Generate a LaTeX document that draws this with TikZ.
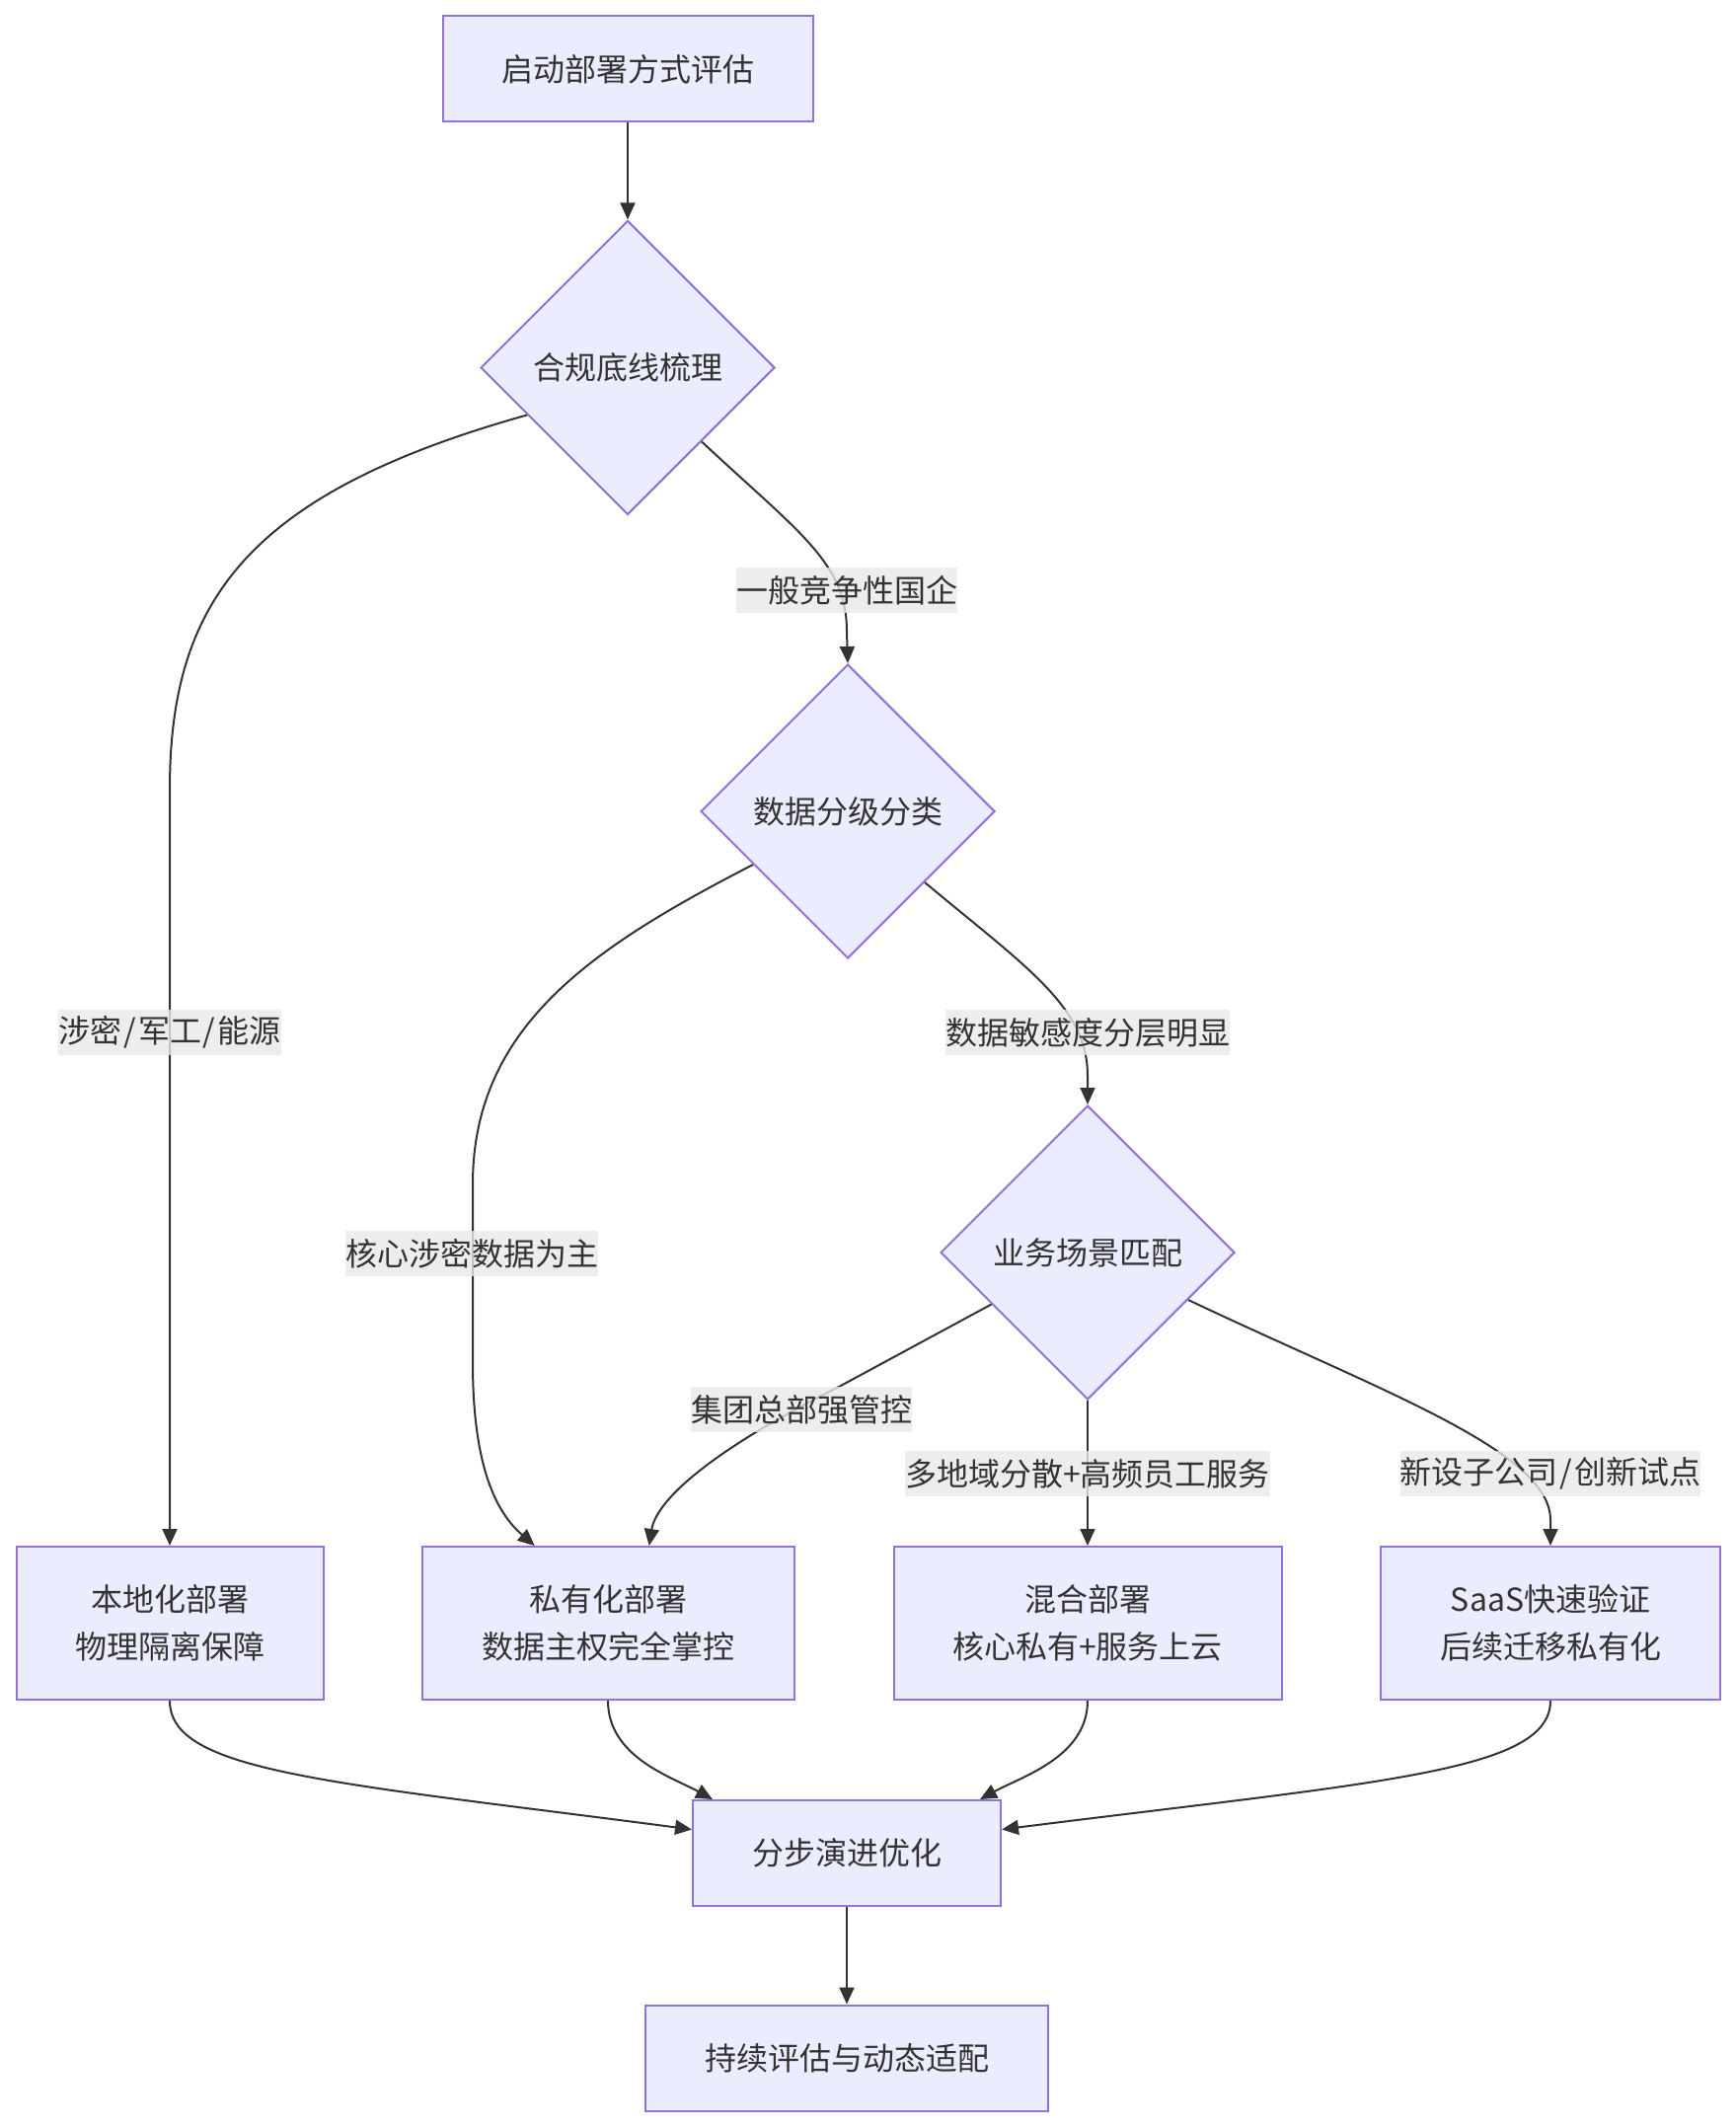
\documentclass[tikz,border=0pt]{standalone}
\usepackage{fontspec}
\setmainfont{Noto Sans CJK SC}
\usetikzlibrary{shapes.geometric,arrows.meta,calc}
\definecolor{nodefill}{HTML}{ECECFF}
\definecolor{nodeline}{HTML}{9370DB}
\definecolor{edgecol}{HTML}{333333}
\definecolor{lblfill}{HTML}{E8E8E8}
\newcommand{\slsh}{\hspace{1pt}/\hspace{1pt}}
\begin{document}
\begin{tikzpicture}[x=0.5pt,y=-0.5pt,
  txt/.style={font=\fontsize{16}{24}\selectfont, text=edgecol},
  box/.style={txt, draw=nodeline, fill=nodefill, line width=1pt, align=center,
    inner sep=0pt, minimum height=53.5pt},
  tall/.style={minimum height=77.5pt},
  dia/.style={txt, diamond, draw=nodeline, fill=nodefill, line width=1pt,
    inner sep=0pt, minimum width=149pt, minimum height=149pt},
  lbl/.style={txt, fill=lblfill, fill opacity=0.8, text opacity=1,
    inner xsep=0pt, inner ysep=0pt, minimum height=23pt},
  edge/.style={draw=edgecol, line width=1pt, -{Triangle[length=8.5pt,width=7.5pt]}},
]
\useasboundingbox (0,0) rectangle (1758,2156);

% nodes
\node[box, minimum width=187.5pt] (start) at (636,70) {启动部署方式评估};
\node[dia] (d1) at (636,372.5) {合规底线梳理};
\node[dia] (d2) at (859,822) {数据分级分类};
\node[dia] (d3) at (1102,1269) {业务场景匹配};
\node[box, tall, minimum width=155.5pt] (A) at (172,1644.5) {本地化部署\\物理隔离保障};
\node[box, tall, minimum width=188.5pt] (B) at (616,1644.5) {私有化部署\\数据主权完全掌控};
\node[box, tall, minimum width=196.5pt] (C) at (1102,1644.5) {混合部署\\核心私有+服务上云};
\node[box, tall, minimum width=172pt] (D) at (1571,1644.5) {SaaS快速验证\\后续迁移私有化};
\node[box, minimum width=156pt] (step) at (858,1877.5) {分步演进优化};
\node[box, minimum width=204pt] (final) at (858,2085) {持续评估与动态适配};

% edges
\draw[edge] (start.south) -- (d1.north);
\draw[edge] ($(d1.west)!0.32!(d1.south)$) .. controls (250,500) and (172,610) .. (172,800) -- (A.north);
\draw[edge] ($(d1.south)!0.5!(d1.east)$) .. controls (810,540) and (858,570) .. (858,640) -- (d2.north);
\draw[edge] ($(d2.west)!0.36!(d2.south)$) .. controls (600,960) and (479,1040) .. (479,1200) -- (479,1380) .. controls (479,1480) and (500,1530) .. ($(B.north west)!0.304!(B.north east)$);
\draw[edge] ($(d2.south)!0.52!(d2.east)$) .. controls (1040,980) and (1102,1020) .. (1102,1090) -- (d3.north);
\draw[edge] ($(d3.west)!0.35!(d3.south)$) -- (850,1405) .. controls (720,1470) and (665,1520) .. ($(B.north west)!0.61!(B.north east)$);
\draw[edge] (d3.south) -- (C.north);
\draw[edge] ($(d3.south)!0.68!(d3.east)$) .. controls (1400,1410) and (1571,1470) .. (1571,1540) -- (D.north);
\draw[edge] (A.south) .. controls (172,1795) and (330,1805) .. ($(step.north west)!0.28!(step.south west)$);
\draw[edge] (B.south) .. controls (616,1780) and (680,1800) .. ($(step.north west)!0.067!(step.north east)$);
\draw[edge] (C.south) .. controls (1102,1780) and (1035,1800) .. ($(step.north west)!0.93!(step.north east)$);
\draw[edge] (D.south) .. controls (1571,1795) and (1400,1805) .. ($(step.north east)!0.28!(step.south east)$);
\draw[edge] (step.south) -- (final.north);

% edge labels
\node[lbl] (l1) at (858,598) {一般竞争性国企};
\node[lbl] (l2) at (172,1046) {涉密\slsh 军工\slsh 能源};
\node[lbl] (l3) at (1102,1046) {数据敏感度分层明显};
\node[lbl] (l4) at (478,1270) {核心涉密数据为主};
\node[lbl] (l5) at (812,1428) {集团总部强管控};
\node[lbl] (l6) at (1102,1493) {多地域分散+高频员工服务};
\node[lbl] (l7) at (1571,1493) {新设子公司\slsh 创新试点};
\end{tikzpicture}
\end{document}
